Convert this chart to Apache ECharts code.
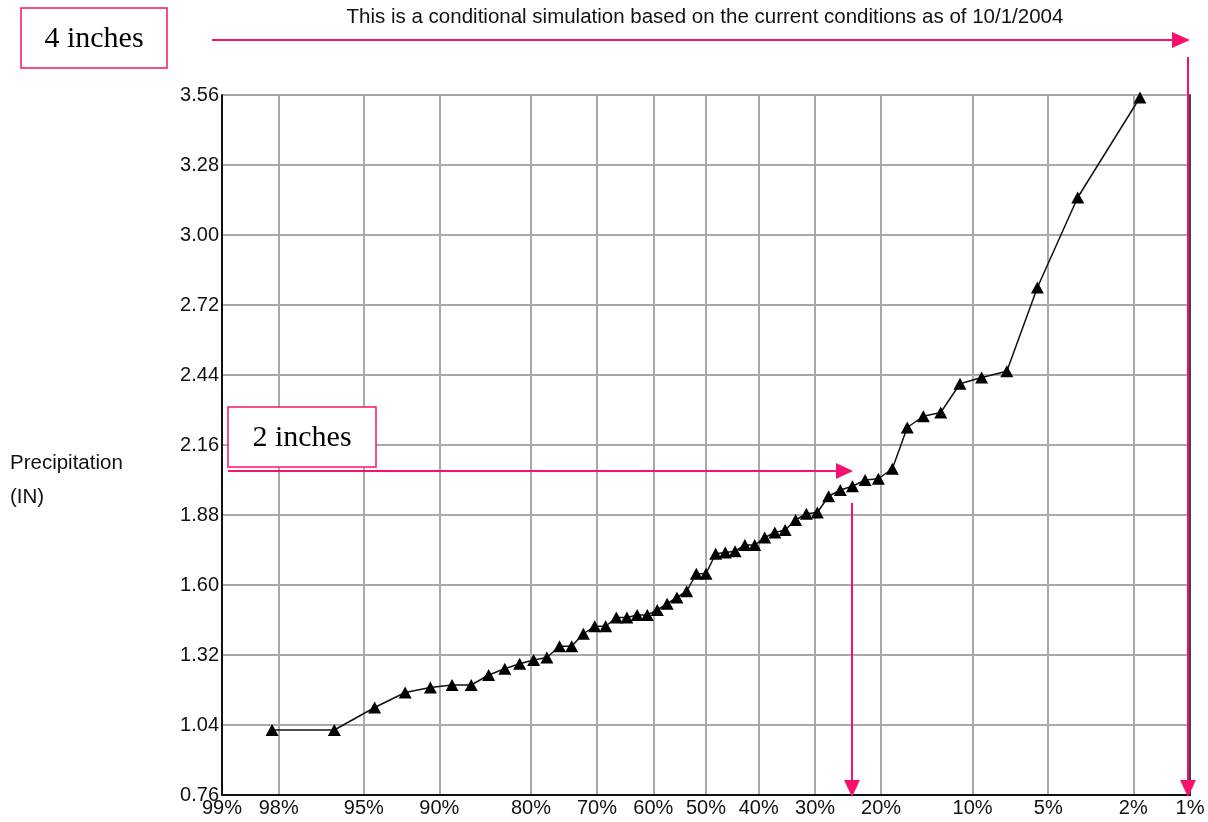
<!DOCTYPE html>
<html>
<head>
<meta charset="utf-8">
<script src="https://cdn.jsdelivr.net/npm/echarts@6/dist/echarts.min.js"></script>
<style>
  html, body { margin: 0; padding: 0; background: #fff; }
  #chart { width: 1208px; height: 822px; }
</style>
</head>
<body>
<div id="chart"></div>
<script>
// exceedance probability (%) of each simulated value, left to right
var exceedance = [
  98.15, 96.30, 94.44, 92.59, 90.74, 88.89, 87.04, 85.19, 83.33, 81.48,
  79.63, 77.78, 75.93, 74.07, 72.22, 70.37, 68.52, 66.67, 64.81, 62.96,
  61.11, 59.26, 57.41, 55.56, 53.70, 51.85, 50.00, 48.15, 46.30, 44.44,
  42.59, 40.74, 38.89, 37.04, 35.19, 33.33, 31.48, 29.63, 27.78, 25.93,
  24.07, 22.22, 20.37, 18.52, 16.67, 14.81, 12.96, 11.11, 9.26, 7.41,
  5.56, 3.70, 1.85
]
// precipitation (IN)
var precip = [
  1.02, 1.02, 1.11, 1.17, 1.19, 1.20, 1.20, 1.24, 1.265, 1.285,
  1.30, 1.31, 1.355, 1.355, 1.405, 1.435, 1.435, 1.47, 1.47, 1.48,
  1.48, 1.50, 1.525, 1.55, 1.575, 1.645, 1.645, 1.725, 1.73, 1.735,
  1.76, 1.76, 1.79, 1.81, 1.82, 1.86, 1.885, 1.89, 1.955, 1.98,
  1.995, 2.02, 2.025, 2.065, 2.23, 2.275, 2.29, 2.405, 2.43, 2.455,
  2.79, 3.15, 3.55
]
var xTicks = [99, 98, 95, 90, 80, 70, 60, 50, 40, 30, 20, 10, 5, 2, 1]
var yTicks = [0.76, 1.04, 1.32, 1.60, 1.88, 2.16, 2.44, 2.72, 3.00, 3.28, 3.56]

var titleText = 'This is a conditional simulation based on the current conditions as of 10/1/2004'
var pink = '#f4126c'
var font = "'Liberation Sans', Arial, sans-serif"

// inverse of the standard normal cdf (Acklam), used as the probability scale
function normInv (p) {
  var a = [-3.969683028665376e+01, 2.209460984245205e+02, -2.759285104469687e+02, 1.383577518672690e+02, -3.066479806614716e+01, 2.506628277459239e+00]
  var b = [-5.447609879822406e+01, 1.615858368580409e+02, -1.556989798598866e+02, 6.680131188771972e+01, -1.328068155288572e+01]
  var c = [-7.784894002430293e-03, -3.223964580411365e-01, -2.400758277161838e+00, -2.549732539343734e+00, 4.374664141464968e+00, 2.938163982698783e+00]
  var d = [7.784695709041462e-03, 3.224671290700398e-01, 2.445134137142996e+00, 3.754408661907416e+00]
  var pl = 0.02425
  var q, r
  if (p < pl) {
    q = Math.sqrt(-2 * Math.log(p))
    return (((((c[0] * q + c[1]) * q + c[2]) * q + c[3]) * q + c[4]) * q + c[5]) / ((((d[0] * q + d[1]) * q + d[2]) * q + d[3]) * q + 1)
  }
  if (p > 1 - pl) {
    q = Math.sqrt(-2 * Math.log(1 - p))
    return -(((((c[0] * q + c[1]) * q + c[2]) * q + c[3]) * q + c[4]) * q + c[5]) / ((((d[0] * q + d[1]) * q + d[2]) * q + d[3]) * q + 1)
  }
  q = p - 0.5
  r = q * q
  return (((((a[0] * r + a[1]) * r + a[2]) * r + a[3]) * r + a[4]) * r + a[5]) * q / (((((b[0] * r + b[1]) * r + b[2]) * r + b[3]) * r + b[4]) * r + 1)
}
function toZ (pct) {
  return normInv(1 - pct / 100)
}

var xTickZ = xTicks.map(toZ)
var seriesData = exceedance.map(function (p, i) { return [toZ(p), precip[i]] })

var labelStyle = { color: '#111', fontSize: 20, fontFamily: font }

var myChart = echarts.init(document.getElementById('chart'))
var option = {
  animation: false,
  backgroundColor: '#fff',
  grid: { left: 222, right: 18, top: 95, bottom: 27 },
  xAxis: {
    type: 'value',
    min: xTickZ[0],
    max: xTickZ[xTickZ.length - 1],
    axisLine: { show: true, onZero: false, lineStyle: { color: '#111', width: 2 } },
    axisTick: { show: false, customValues: xTickZ },
    axisLabel: Object.assign({
      customValues: xTickZ,
      margin: 3,
      showMinLabel: true,
      showMaxLabel: true,
      formatter: function (v) {
        var best = 0
        xTickZ.forEach(function (z, i) {
          if (Math.abs(z - v) < Math.abs(xTickZ[best] - v)) best = i
        })
        return xTicks[best] + '%'
      }
    }, labelStyle),
    splitLine: { show: true, lineStyle: { color: '#a9a9a9', width: 2 } }
  },
  yAxis: [{
    type: 'value',
    min: yTicks[0],
    max: yTicks[yTicks.length - 1],
    axisLine: { show: true, onZero: false, lineStyle: { color: '#111', width: 2 } },
    axisTick: { show: false, customValues: yTicks },
    axisLabel: Object.assign({
      customValues: yTicks,
      margin: 3,
      formatter: function (v) { return v.toFixed(2) }
    }, labelStyle),
    splitLine: { show: true, lineStyle: { color: '#a9a9a9', width: 2 } }
  }, {
    type: 'value',
    position: 'right',
    min: yTicks[0],
    max: yTicks[yTicks.length - 1],
    axisLine: { show: true, onZero: false, lineStyle: { color: '#444', width: 2 } },
    axisTick: { show: false },
    axisLabel: { show: false },
    splitLine: { show: false }
  }],
  series: [{
    type: 'line',
    data: seriesData,
    symbol: 'triangle',
    symbolSize: [13, 12],
    showAllSymbol: true,
    itemStyle: { color: '#000' },
    lineStyle: { color: '#111', width: 1.5 },
    z: 3
  }],
  graphic: [
    { type: 'text', x: 705, y: 17, style: { text: titleText, font: '20.5px ' + font, fill: '#111', align: 'center', verticalAlign: 'middle' } },
    { type: 'text', x: 10, y: 463, style: { text: 'Precipitation', font: '20.5px ' + font, fill: '#111', verticalAlign: 'middle' } },
    { type: 'text', x: 10, y: 497, style: { text: '(IN)', font: '20.5px ' + font, fill: '#111', verticalAlign: 'middle' } },

    { type: 'rect', shape: { x: 21, y: 8, width: 146, height: 60 }, style: { fill: '#fff', stroke: pink, lineWidth: 1.5 }, z: 10 },
    { type: 'text', x: 94, y: 39, style: { text: '4 inches', font: "30px 'Liberation Serif', 'Times New Roman', serif", fill: '#000', align: 'center', verticalAlign: 'middle' }, z: 11 },
    { type: 'line', shape: { x1: 212, y1: 40, x2: 1176, y2: 40 }, style: { stroke: pink, lineWidth: 2 }, z: 10 },
    { type: 'polygon', shape: { points: [[1172, 32], [1190, 40], [1172, 48]] }, style: { fill: pink }, z: 10 },
    { type: 'line', shape: { x1: 1188, y1: 57, x2: 1188, y2: 782 }, style: { stroke: pink, lineWidth: 2 }, z: 10 },
    { type: 'polygon', shape: { points: [[1180, 780], [1196, 780], [1188, 797]] }, style: { fill: pink }, z: 10 },

    { type: 'rect', shape: { x: 228, y: 407, width: 148, height: 60 }, style: { fill: '#fff', stroke: pink, lineWidth: 1.5 }, z: 10 },
    { type: 'text', x: 302, y: 438, style: { text: '2 inches', font: "30px 'Liberation Serif', 'Times New Roman', serif", fill: '#000', align: 'center', verticalAlign: 'middle' }, z: 11 },
    { type: 'line', shape: { x1: 228, y1: 471, x2: 840, y2: 471 }, style: { stroke: pink, lineWidth: 2 }, z: 10 },
    { type: 'polygon', shape: { points: [[836, 463], [853, 471], [836, 479]] }, style: { fill: pink }, z: 10 },
    { type: 'line', shape: { x1: 852, y1: 503, x2: 852, y2: 782 }, style: { stroke: pink, lineWidth: 2 }, z: 10 },
    { type: 'polygon', shape: { points: [[844, 780], [860, 780], [852, 797]] }, style: { fill: pink }, z: 10 }
  ]
}
myChart.setOption(option)
</script>
</body>
</html>
